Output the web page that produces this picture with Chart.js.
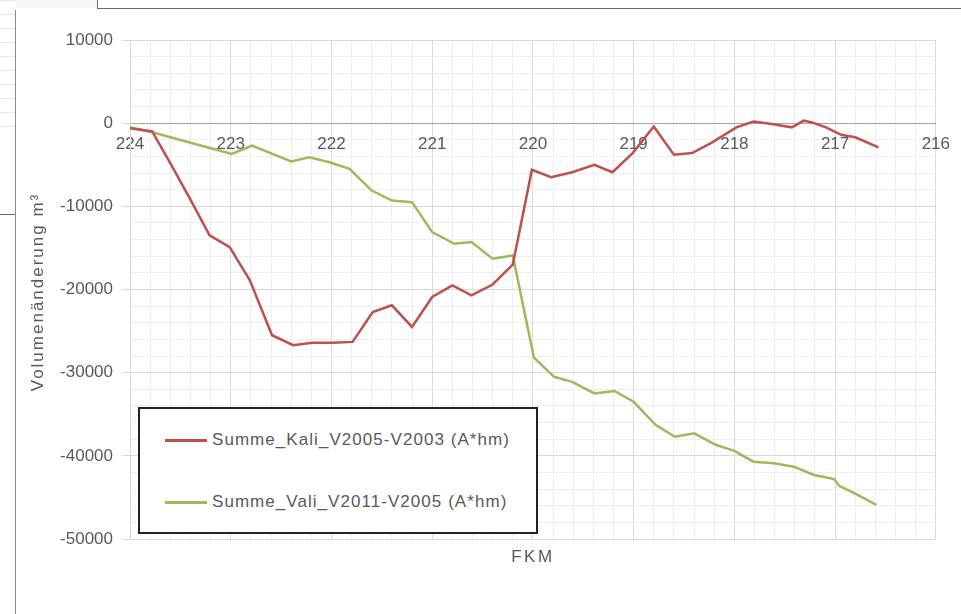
<!DOCTYPE html>
<html>
<head>
<meta charset="utf-8">
<script src="https://cdn.jsdelivr.net/npm/chart.js@4/dist/chart.umd.min.js"></script>
<style>
  html, body { margin: 0; padding: 0; background: #fff; }
  body { width: 961px; height: 614px; position: relative; overflow: hidden; font-family: "Liberation Sans", Arial, sans-serif; }
  #cells { position: absolute; left: 0; top: 0; width: 15px; height: 140px;
    background-image: linear-gradient(#e6e6e6 1px, transparent 1px); background-size: 15px 14px; }
  #cellsTop { position: absolute; left: 15px; top: 0; width: 82px; height: 8px; background: #f7f7f7; }
  .ln { position: absolute; background: #6a6a6a; }
  #wrap { position: absolute; left: 0; top: 0; width: 961px; height: 614px; }
  #legend { position: absolute; left: 138px; top: 407px; width: 396px; height: 123px;
    border: 2px solid #222; background: #fff; color: #595959; font-size: 17px; letter-spacing: 1.05px; }
  .item { position: absolute; left: 25px; height: 20px; line-height: 20px; white-space: nowrap; }
  .item span.sw { display: inline-block; width: 42px; height: 3px; vertical-align: middle; margin-right: 5px; }
</style>
</head>
<body>
<div id="cells"></div>
<div id="cellsTop"></div>
<div class="ln" style="left:97px;top:0;width:1px;height:8px;"></div>
<div class="ln" style="left:97px;top:8px;width:864px;height:1px;"></div>
<div class="ln" style="left:15px;top:10px;width:1px;height:604px;background:#8a8a8a;"></div>
<div class="ln" style="left:0;top:214px;width:15px;height:1px;"></div>
<div id="wrap"><canvas id="chart" width="961" height="614"></canvas></div>
<div id="legend">
  <div class="item" style="top:21px;"><span class="sw" style="background:#c0504d"></span>Summe_Kali_V2005-V2003 (A*hm)</div>
  <div class="item" style="top:83px;"><span class="sw" style="background:#9bbb59"></span>Summe_Vali_V2011-V2005 (A*hm)</div>
</div>
<script>
const seriesNames = ["Summe_Kali_V2005-V2003 (A*hm)", "Summe_Vali_V2011-V2005 (A*hm)"];

const kmKali = [224.0, 223.78, 223.6, 223.4, 223.21, 223.01, 222.81, 222.59, 222.38, 222.19,
  221.99, 221.79, 221.59, 221.4, 221.2, 221.0, 220.8, 220.61, 220.4, 220.2,
  220.01, 219.82, 219.61, 219.39, 219.21, 219.01, 218.8, 218.6, 218.42, 218.22,
  217.98, 217.81, 217.63, 217.43, 217.31, 217.23, 217.09, 216.94, 216.8, 216.57];
const valKali = [-600, -1000, -4800, -9200, -13500, -14900, -18900, -25500, -26700, -26400,
  -26400, -26300, -22700, -21900, -24500, -20900, -19500, -20700, -19400, -17000,
  -5600, -6500, -5900, -5000, -5900, -3600, -400, -3800, -3600, -2300,
  -500, 200, -100, -500, 300, 100, -500, -1400, -1700, -2900];

const kmVali = [224.0, 223.78, 222.99, 222.79, 222.4, 222.22, 222.02, 221.82, 221.6, 221.4,
  221.2, 221.0, 220.78, 220.61, 220.4, 220.2, 219.99, 219.79, 219.61, 219.39,
  219.19, 219.0, 218.78, 218.59, 218.4, 218.18, 218.0, 217.81, 217.61, 217.41,
  217.21, 217.01, 216.96, 216.79, 216.59];
const valVali = [-500, -1100, -3700, -2700, -4600, -4100, -4700, -5500, -8100, -9300,
  -9500, -13100, -14500, -14300, -16300, -15900, -28200, -30500, -31100, -32500,
  -32200, -33500, -36300, -37700, -37300, -38700, -39400, -40700, -40900, -41300,
  -42300, -42800, -43600, -44600, -45900];

const xMin = 216, xMax = 224, xStep = 0.2;
const yMin = -50000, yMax = 10000, yStep = 2000, yMajor = 10000;
const xLabel = "FKM";
const yLabel = "Volumenänderung m³";

const FONT = "'Liberation Sans', Arial, sans-serif";

function isInt(v) { return Math.abs(v - Math.round(v)) < 1e-6; }

const toPoints = (xs, ys) => xs.map((x, i) => ({ x: x, y: ys[i] }));

// axis titles, drawn by hand so they sit where the original has them
const axisTitles = {
  id: "axisTitles",
  afterDraw(chart) {
    const { ctx, chartArea } = chart;
    ctx.save();
    ctx.fillStyle = "#595959";
    ctx.font = "17px " + FONT;
    ctx.letterSpacing = "2.5px";
    ctx.textAlign = "center";
    ctx.textBaseline = "middle";
    ctx.fillText(xLabel, (chartArea.left + chartArea.right) / 2, chartArea.bottom + 18);
    ctx.translate(38, 292);
    ctx.rotate(-Math.PI / 2);
    ctx.letterSpacing = "2px";
    ctx.fillText(yLabel, 0, 0);
    ctx.restore();
  }
};

const ctx = document.getElementById("chart").getContext("2d");
new Chart(ctx, {
  type: "line",
  data: {
    datasets: [
      {
        label: seriesNames[0],
        data: toPoints(kmKali, valKali),
        borderColor: "#c0504d",
        borderWidth: 2.5,
        pointRadius: 0,
        tension: 0,
      },
      {
        label: seriesNames[1],
        data: toPoints(kmVali, valVali),
        borderColor: "#9bbb59",
        borderWidth: 2.5,
        pointRadius: 0,
        tension: 0,
      },
    ],
  },
  plugins: [axisTitles],
  options: {
    responsive: false,
    animation: false,
    layout: { padding: { left: 0, top: 40, right: 24, bottom: 75 } },
    plugins: { legend: { display: false }, tooltip: { enabled: false } },
    scales: {
      x: {
        type: "linear",
        position: { y: 0 },
        reverse: true,
        min: xMin,
        max: xMax,
        ticks: {
          stepSize: xStep,
          autoSkip: false,
          maxRotation: 0,
          padding: 11,
          color: "#595959",
          font: { size: 17, family: FONT },
          callback: (v) => (isInt(v) ? Math.round(v) : ""),
        },
        grid: {
          drawTicks: false,
          color: (c) => (c.tick && isInt(c.tick.value) ? "#d9d9d9" : "#eeeeee"),
        },
        border: { color: "#a6a6a6", width: 1 },
      },
      y: {
        min: yMin,
        max: yMax,
        afterFit: (scale) => { scale.width = 130; },
        ticks: {
          stepSize: yStep,
          autoSkip: false,
          padding: 9,
          color: "#595959",
          font: { size: 17, family: FONT },
          callback: (v) => (v % yMajor === 0 ? v : ""),
        },
        grid: {
          tickLength: 8,
          color: (c) => (c.tick && c.tick.value % yMajor === 0 ? "#d9d9d9" : "#eeeeee"),
          tickColor: (c) => (c.tick && c.tick.value % yMajor === 0 ? "#d9d9d9" : "rgba(0,0,0,0)"),
        },
        border: { color: "#d9d9d9" },
      },
    },
  },
});
</script>
</body>
</html>
